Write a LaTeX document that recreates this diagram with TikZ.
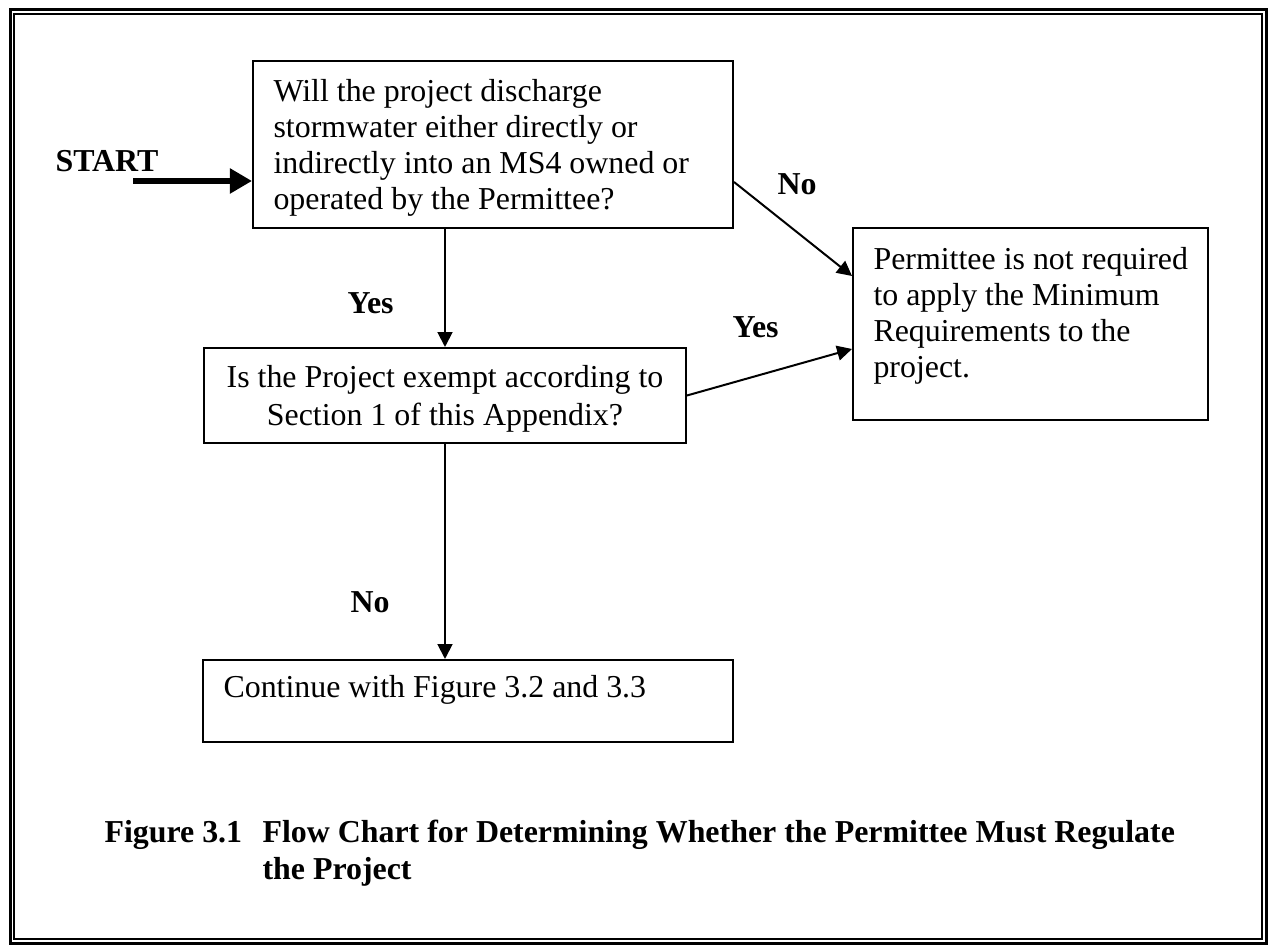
\documentclass[tikz,border=0pt]{standalone}
\usepackage{fontspec}
\setmainfont{Liberation Serif}
\usetikzlibrary{arrows.meta,calc,fit}
\def\pxu{0.3762pt}
\begin{document}
\begin{tikzpicture}[x=\pxu,y=-\pxu,
  boxst/.style={draw, line width=0.75pt, inner sep=0pt},
  txt/.style={inner sep=0pt, font=\fontsize{12}{13.43}\selectfont},
  lbl/.style={inner sep=0pt, font=\fontsize{12}{13.43}\selectfont\bfseries, anchor=base west},
  arr/.style={line width=0.75pt, -{Triangle[length=5.6pt,width=5.6pt]}},
  bigarr/.style={line width=2.6pt, -{Triangle[length=8.3pt,width=9pt]}}]
\useasboundingbox (0,0) rectangle (1274,951);
% frame
\draw[line width=3*\pxu] (10.5,10) rectangle (1266.5,943.5);
\draw[line width=1.8*\pxu] (13.7,13.7) rectangle (1262,939);
% boxes
\node[boxst, fit={(253,61) (733,228)}] (b1) {};
\node[boxst, fit={(853,228) (1208,420)}] (b2) {};
\node[boxst, fit={(204,348) (686,443)}] (b3) {};
\node[boxst, fit={(203,660) (733,742)}] (b4) {};
% box texts
\node[txt, anchor=base west] (t1) at (273,102) {\begin{tabular}[t]{@{}l@{}}Will the project discharge\\stormwater either directly or\\indirectly into an MS4 owned or\\operated by the Permittee?\end{tabular}};
\node[txt, anchor=base west] (t2) at (873,270) {\begin{tabular}[t]{@{}l@{}}Permittee is not required\\to apply the Minimum\\Requirements to the\\project.\end{tabular}};
\node[txt, font=\fontsize{12}{14}\selectfont, anchor=base] (t3) at (445,388) {\begin{tabular}[t]{@{}c@{}}Is the Project exempt according to\\Section 1 of this Appendix?\end{tabular}};
\node[txt, anchor=base west] (t4) at (223,698) {Continue with Figure 3.2 and 3.3};
% labels
\node[lbl] (start) at (55,172) {START};
\node[lbl] (lno1) at (777,195) {No};
\node[lbl] (lyes1) at (732,338) {Yes};
\node[lbl] (lyes2) at (347,314) {Yes};
\node[lbl] (lno2) at (350,613) {No};
% connectors
\coordinate (s0) at (133,181);
\draw[bigarr] (s0) -- (s0 -| b1.west);
\draw[arr] ($(b1.east)+(0,37.5)$) -- ($(b2.west)+(0,-48)$);
\draw[arr] (b3.east) -- ($(b2.west)+(0,25)$);
\draw[arr] (b3.north |- b1.south) -- (b3.north);
\draw[arr] (b3.south) -- (b3.south |- b4.north);
% caption
\node[lbl] (capno) at (104,843) {Figure 3.1};
\node[lbl, font=\fontsize{12}{13.9}\selectfont\bfseries] (cap) at (262,843) {\begin{tabular}[t]{@{}l@{}}Flow Chart for Determining Whether the Permittee Must Regulate\\the Project\end{tabular}};
\end{tikzpicture}
\end{document}
